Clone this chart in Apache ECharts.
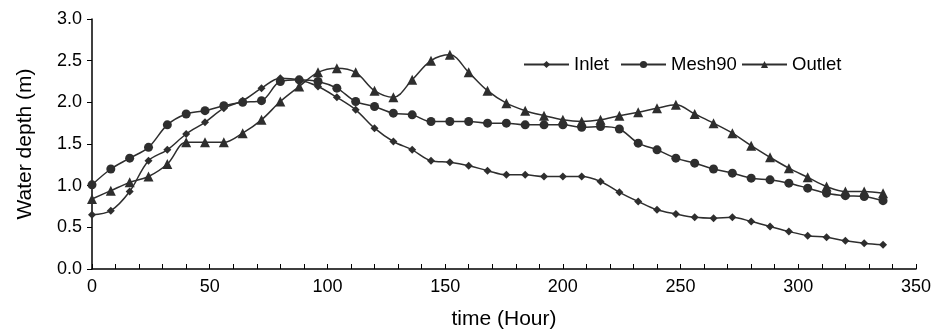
<!DOCTYPE html>
<html>
<head>
<meta charset="utf-8">
<script src="https://cdn.jsdelivr.net/npm/echarts@6/dist/echarts.min.js"></script>
<style>
  html, body { margin: 0; padding: 0; background: #fff; }
  #chart { width: 939px; height: 335px; }
</style>
</head>
<body>
<div id="chart"></div>
<script>
// hours, one sample every 8 h
const hours = [0, 8, 16, 24, 32, 40, 48, 56, 64, 72, 80, 88, 96, 104, 112, 120, 128, 136, 144, 152,
  160, 168, 176, 184, 192, 200, 208, 216, 224, 232, 240, 248, 256, 264, 272, 280, 288, 296, 304,
  312, 320, 328, 336];

const inlet = [0.65, 0.70, 0.93, 1.30, 1.43, 1.62, 1.76, 1.93, 2.02, 2.17, 2.29, 2.27, 2.19, 2.06,
  1.91, 1.69, 1.53, 1.43, 1.30, 1.28, 1.24, 1.18, 1.13, 1.13, 1.11, 1.11, 1.11, 1.05, 0.92, 0.81,
  0.71, 0.66, 0.62, 0.61, 0.62, 0.57, 0.51, 0.45, 0.40, 0.38, 0.34, 0.31, 0.29];

const mesh90 = [1.01, 1.20, 1.33, 1.46, 1.73, 1.86, 1.90, 1.96, 2.00, 2.02, 2.25, 2.27, 2.25, 2.17,
  2.01, 1.95, 1.87, 1.85, 1.77, 1.77, 1.77, 1.75, 1.75, 1.73, 1.73, 1.73, 1.70, 1.71, 1.68, 1.51,
  1.43, 1.33, 1.27, 1.20, 1.15, 1.09, 1.07, 1.03, 0.97, 0.91, 0.88, 0.87, 0.82];

const outlet = [0.84, 0.94, 1.04, 1.11, 1.26, 1.52, 1.52, 1.52, 1.63, 1.79, 2.01, 2.19, 2.36, 2.41,
  2.36, 2.14, 2.06, 2.27, 2.50, 2.57, 2.36, 2.14, 1.99, 1.90, 1.84, 1.79, 1.77, 1.79, 1.84, 1.88,
  1.93, 1.97, 1.86, 1.75, 1.63, 1.48, 1.34, 1.21, 1.10, 0.99, 0.93, 0.93, 0.91];

const names = ['Inlet', 'Mesh90', 'Outlet'];

const font = 'Liberation Sans, Arial, sans-serif';
const ink = '#2e2e2e';

const pairs = (ys) => hours.map((h, i) => [h, ys[i]]);

const mkSeries = (name, ys, symbol, size) => ({
  name,
  type: 'line',
  data: pairs(ys),
  smooth: 0.35,
  symbol,
  symbolSize: size,
  showSymbol: true,
  lineStyle: { color: ink, width: 1.5 },
  itemStyle: { color: ink },
  emphasis: { disabled: true },
  animation: false
});

// one legend box per item so the odd spacing of the original can be kept
const legendLeft = [518, 615, 736];
const legends = names.map((n, i) => ({
  top: 50,
  left: legendLeft[i],
  itemWidth: 45,
  itemHeight: 9,
  textStyle: { fontFamily: font, fontSize: 18.5, color: '#000' },
  data: [n]
}));

const chart = echarts.init(document.getElementById('chart'));
chart.setOption({
  backgroundColor: '#fff',
  animation: false,
  grid: { left: 92, right: 23, top: 19, bottom: 60 },
  legend: legends,
  xAxis: {
    type: 'value',
    min: 0,
    max: 350,
    interval: 50,
    name: 'time (Hour)',
    nameLocation: 'middle',
    nameGap: 40,
    nameTextStyle: { fontFamily: font, fontSize: 21, color: '#000' },
    axisLine: { show: true, lineStyle: { color: '#000', width: 1.5 } },
    axisTick: { show: true, inside: true, length: 5, lineStyle: { color: '#000' } },
    minorTick: { show: true, splitNumber: 5, length: 5, lineStyle: { color: '#000' } },
    axisLabel: { fontFamily: font, fontSize: 18, color: '#000', margin: 9 },
    splitLine: { show: false }
  },
  yAxis: {
    type: 'value',
    min: 0,
    max: 3,
    interval: 0.5,
    name: 'Water depth (m)',
    nameLocation: 'middle',
    nameGap: 56,
    nameTextStyle: { fontFamily: font, fontSize: 21, color: '#000' },
    axisLine: { show: true, lineStyle: { color: '#000', width: 1.5 } },
    axisTick: { show: true, length: 5, lineStyle: { color: '#000' } },
    axisLabel: {
      fontFamily: font, fontSize: 18, color: '#000', margin: 10,
      formatter: (v) => v.toFixed(1)
    },
    splitLine: { show: false }
  },
  series: [
    mkSeries('Inlet', inlet, 'diamond', 8),
    mkSeries('Mesh90', mesh90, 'circle', 9),
    mkSeries('Outlet', outlet, 'triangle', 10)
  ]
});
</script>
</body>
</html>
